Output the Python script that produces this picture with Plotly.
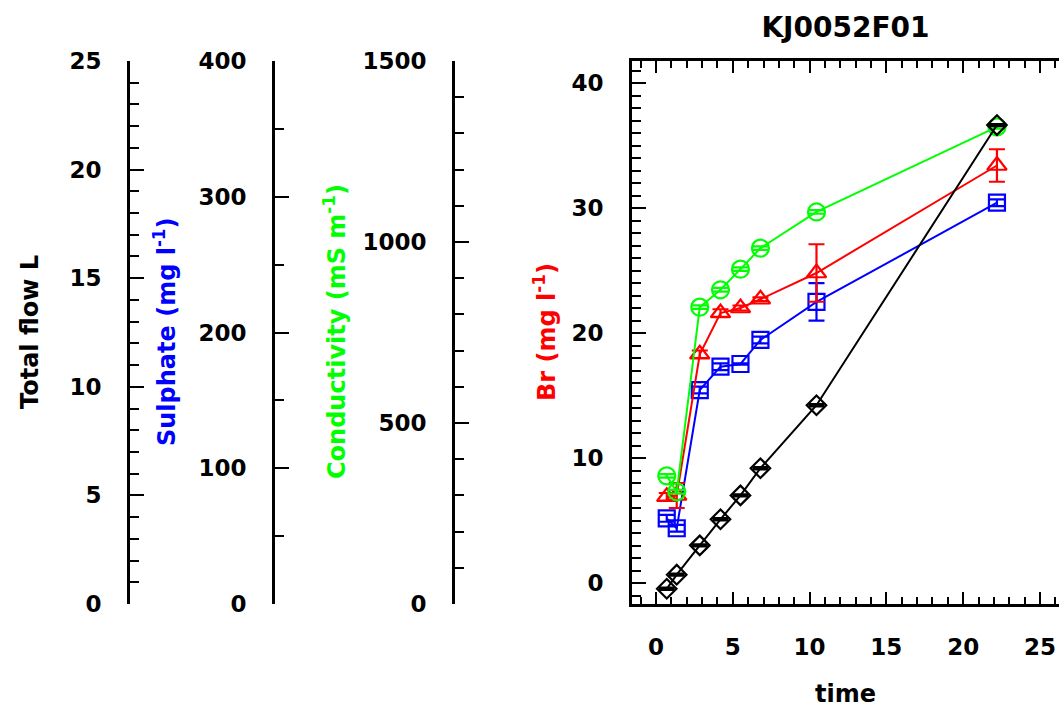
import plotly.graph_objects as go

# Sampling times
time = [0.7, 1.35, 2.85, 4.2, 5.5, 6.8, 10.45, 22.2]

# Measured series
sulphate = [63.1, 55.8, 157.6, 174.8, 176.8, 194.5, 222.5, 295.6]      # mg/l
sulphate_err = [2.5, 2.5, 2.5, 2.5, 0.4, 2.5, 13.8, 2.5]
br = [6.9, 7.0, 18.3, 21.6, 22.0, 22.7, 24.8, 33.4]                     # mg/l
br_err = [0.3, 1.0, 0.3, 0.3, 0.2, 0.15, 2.3, 1.3]
conductivity = [354, 310, 820, 868, 925, 983, 1083, 1318]                # mS/m
conductivity_err = [5, 5, 5, 5, 5, 5, 5, 5]
total_flow = [0.7, 1.35, 2.7, 3.9, 5.0, 6.25, 9.15, 22.05]               # L
total_flow_err = [0.05] * 8

# Axis ranges and tick steps
flow_range, flow_major, flow_minor = [0, 25], 5, 1
sul_range, sul_major, sul_minor = [0, 400], 100, 50
cond_range, cond_major, cond_minor = [0, 1500], 500, 100
br_range, br_major, br_minor = [-1.68, 41.76], 10, 1
time_range, time_major, time_minor = [-1.5625, 26.24], 5, 1

W, H = 1059, 724
TOP, BOTTOM = 61, 604
PLOT_H = BOTTOM - TOP

FONT = "DejaVu Sans"
BLUE, RED, GREEN, BLACK = "#0000ff", "#ff0000", "#00ff00", "#000000"


def px_x(p):
    return p / W


def px_y(p):
    return (BOTTOM - p) / PLOT_H


def series(x, y, err, color, symbol, size, yaxis, name):
    return go.Scatter(
        x=x, y=y, yaxis=yaxis, name=name, mode="lines+markers",
        line=dict(color=color, width=2),
        marker=dict(symbol=symbol, size=size, color=color,
                    line=dict(color=color, width=2.2)),
        error_y=dict(type="data", array=err, visible=True, color=color,
                     thickness=2.2, width=8),
        cliponaxis=False,
    )


fig = go.Figure()
fig.add_trace(series(time, sulphate, sulphate_err, BLUE, "square-open", 16, "y", "Sulphate"))
fig.add_trace(series(time, br, br_err, RED, "triangle-up-open", 17, "y2", "Br"))
fig.add_trace(series(time, conductivity, conductivity_err, GREEN, "circle-open", 17, "y3", "Conductivity"))
fig.add_trace(series(time, total_flow, total_flow_err, BLACK, "diamond-open", 15, "y4", "Total flow"))

tickfont = dict(family=FONT, size=23, color="black", weight="bold")


def yax(rng, major, minor, **kw):
    d = dict(
        range=rng, dtick=major, tick0=0, ticks="inside", ticklen=14, tickwidth=2,
        tickcolor="black", showline=True, linecolor="black", linewidth=3,
        showgrid=False, zeroline=False, tickfont=tickfont, side="left",
        ticklabelstandoff=21,
        minor=dict(dtick=minor, tick0=0, ticks="inside", ticklen=9, tickwidth=2,
                   tickcolor="black", showgrid=False),
    )
    d.update(kw)
    return d


fig.update_layout(
    width=W, height=H,
    margin=dict(l=0, r=0, t=TOP, b=H - BOTTOM),
    paper_bgcolor="white", plot_bgcolor="white",
    showlegend=False,
    title=dict(text="KJ0052F01", x=(px_x(632) + 1) / 2, xanchor="center",
               y=1 - 27 / H, yanchor="middle",
               font=dict(family=FONT, size=28, color="black", weight="bold")),
    xaxis=dict(
        domain=[px_x(632), 1], range=time_range, dtick=time_major, tick0=0,
        ticks="inside", ticklen=12, tickwidth=2, tickcolor="black",
        showline=True, linecolor="black", linewidth=3, mirror="ticks",
        showgrid=False, zeroline=False, tickfont=tickfont, anchor="y2",
        ticklabelstandoff=20,
        minor=dict(dtick=time_minor, tick0=0, ticks="inside", ticklen=7,
                   tickwidth=2, tickcolor="black", showgrid=False),
    ),
    yaxis=yax(sul_range, sul_major, sul_minor, anchor="free", position=px_x(273)),
    yaxis2=yax(br_range, br_major, br_minor, overlaying="y", anchor="x"),
    yaxis3=yax(cond_range, cond_major, cond_minor, overlaying="y", anchor="free",
               position=px_x(453)),
    yaxis4=yax(flow_range, flow_major, flow_minor, overlaying="y", anchor="free",
               position=px_x(128)),
)

titlefont = dict(family=FONT, size=24, weight="bold")
axis_titles = [
    ("Total flow L", 30, BLACK),
    ("Sulphate (mg l<sup>-1</sup>)", 165, BLUE),
    ("Conductivity (mS m<sup>-1</sup>)", 335, GREEN),
    ("Br (mg l<sup>-1</sup>)", 545, RED),
]
for text, xpix, color in axis_titles:
    fig.add_annotation(text=text, xref="paper", yref="paper", x=px_x(xpix),
                       y=px_y(332), textangle=-90, showarrow=False,
                       xanchor="center", yanchor="middle",
                       font=dict(titlefont, color=color))

fig.add_annotation(text="time", xref="paper", yref="paper", x=(px_x(632) + 1) / 2,
                   y=px_y(694), showarrow=False, xanchor="center", yanchor="middle",
                   font=dict(titlefont, color="black"))

fig.write_html("out.html")
